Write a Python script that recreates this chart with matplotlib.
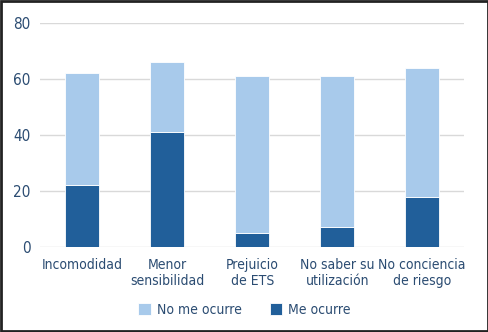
import matplotlib.pyplot as plt
import numpy as np

categorias = ["Incomodidad", "Menor\nsensibilidad", "Prejuicio\nde ETS", "No saber su\nutilización", "No conciencia\nde riesgo"]
me_ocurre = [22, 41, 5, 7, 18]
no_me_ocurre = [40, 25, 56, 54, 46]
yticks = [0, 20, 40, 60, 80]

plt.rcParams['font.family'] = ['DejaVu Sans']
plt.rcParams['font.stretch'] = 'condensed'
color_txt = "#2b4c72"
claro = "#a8caeb"
oscuro = "#215f9a"

fig = plt.figure(figsize=(4.89, 3.32), dpi=100)
ax = fig.add_axes([40/489, 85/332, 424.5/489, 224/332])

x = np.arange(len(categorias))
ax.bar(x, me_ocurre, width=0.4, color=oscuro, edgecolor="white", linewidth=0.6, label="Me ocurre", zorder=3)
ax.bar(x, no_me_ocurre, width=0.4, bottom=me_ocurre, color=claro, edgecolor="white", linewidth=0.6,
       label="No me ocurre", zorder=3)

ax.set_xlim(-0.5, len(categorias) - 0.5)
ax.set_ylim(0, 80)
ax.set_yticks(yticks)
ax.set_xticks(x)
ax.set_xticklabels(categorias, fontsize=10, color=color_txt, linespacing=1.15, fontstretch='condensed')
for t in ax.get_yticklabels():
    t.set_fontstretch('condensed')
ax.tick_params(axis="y", labelsize=11, labelcolor=color_txt, length=0, pad=7)
ax.tick_params(axis="x", length=0, pad=8)
ax.yaxis.grid(True, color="#d9d9d9", linewidth=1, zorder=0)
for s in ax.spines.values():
    s.set_visible(False)

h, l = ax.get_legend_handles_labels()
fig.legend(h[::-1], l[::-1], loc="center", bbox_to_anchor=(0.5, 22/332), ncol=2, frameon=False,
           prop={'size': 10, 'stretch': 'condensed'}, labelcolor=color_txt, handlelength=0.9, handleheight=0.9,
           columnspacing=2.0, handletextpad=0.45)

fig.patches.append(plt.Rectangle((0.002, 0.003), 0.995, 0.994, transform=fig.transFigure,
                                 fill=False, edgecolor="#222222", linewidth=2))
fig.savefig("out.png", dpi=100)
